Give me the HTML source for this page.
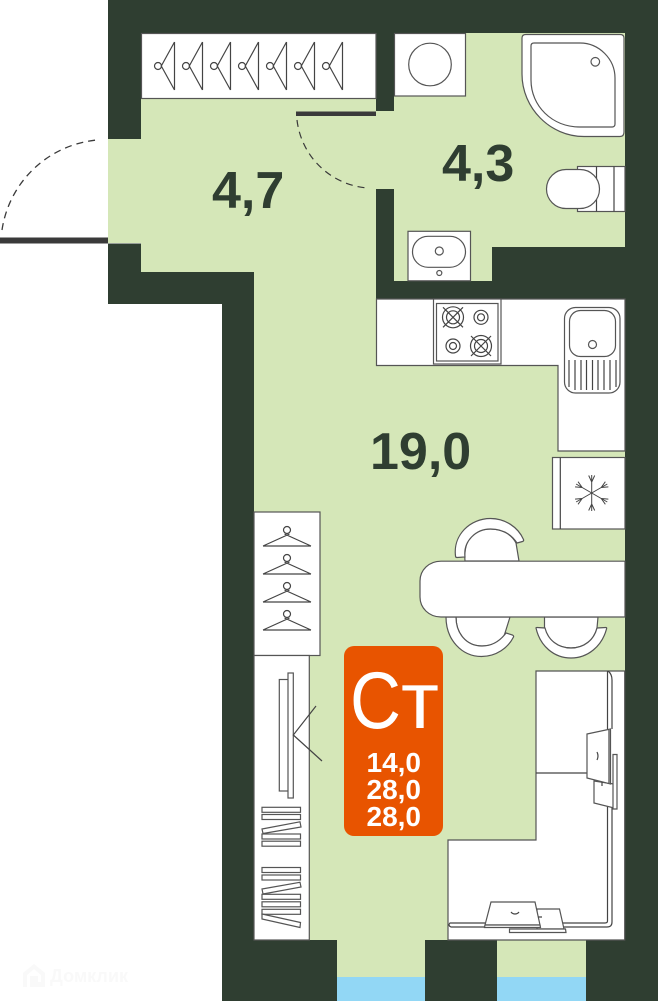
<!DOCTYPE html>
<html><head><meta charset="utf-8"><style>
html,body{margin:0;padding:0;background:#fff}
svg{display:block}
text{font-family:"Liberation Sans",sans-serif}
.f{fill:#fff;stroke:#555;stroke-width:1.2}
.l{fill:none;stroke:#444;stroke-width:1.2}
</style></head><body>
<svg width="658" height="1001" viewBox="0 0 658 1001" xmlns="http://www.w3.org/2000/svg">
<defs>
<g id="hv" class="l"><circle cx="158" cy="66" r="3.5"/><path d="M174.500 42V90M174.500 42L161 66.500M174.500 90L161 65.500"/></g>
<g id="hh" class="l"><circle cx="287" cy="530" r="3.5"/><path d="M263 546H311M263 546L289.500 534M311 546L284.500 534"/></g>
<g id="bb" class="l"><circle r="10.500"/><circle r="6.500"/><path d="M-10-10L10 10M10-10L-10 10"/></g>
<g id="bs" class="l"><circle r="7"/><circle r="3.500"/></g>
<g id="arm" class="l"><path d="M0 0V-18M0-11L-3-17.500M0-11L3-17.500" stroke-width="1"/></g>
</defs>

<!-- floor -->
<path fill="#d5e7b8" d="M141 33H625V281H141ZM108 139H141V243H108ZM254 281H625V940H254ZM337 940H425V977H337ZM497 940H586V977H497Z"/>
<rect x="337" y="977" width="88" height="24" fill="#92d7f5"/>
<rect x="497" y="977" width="89" height="24" fill="#92d7f5"/>

<!-- walls -->
<path fill="#2f3e31" d="M108 0H658V1001H586V940H497V1001H425V940H337V1001H222V304H108V243.500H141V272H254V940H625V33H141V139H108Z"/>
<rect x="376" y="33" width="18" height="78" fill="#2f3e31"/>
<path fill="#2f3e31" d="M376 189H394V281H492V247H625V299H376Z"/>

<!-- closet top -->
<rect x="141.500" y="33.500" width="234.500" height="65" class="f"/>
<use href="#hv"/><use href="#hv" x="28"/><use href="#hv" x="56"/><use href="#hv" x="84"/><use href="#hv" x="112"/><use href="#hv" x="140"/><use href="#hv" x="168"/>

<!-- doors -->
<rect x="0" y="237.500" width="108" height="6" fill="#3a3a3a"/>
<path d="M2 230A106 106 0 0 1 97 140" fill="none" stroke="#3a3a3a" stroke-width="1.300" stroke-dasharray="7 5"/>
<rect x="296" y="111.500" width="80" height="4.500" fill="#3a3a3a"/>
<path d="M297 120A77 77 0 0 0 368 188" fill="none" stroke="#3a3a3a" stroke-width="1.200" stroke-dasharray="7 5"/>

<!-- washer -->
<rect x="394.500" y="33.500" width="71" height="62.500" class="f"/>
<circle cx="430" cy="64.500" r="21.300" class="f"/>

<!-- shower -->
<path class="f" d="M522 38Q522 34.500 526 34.500H620Q624 34.500 624 38V132Q624 136.500 620 136.500H584C550 136.500 522 108 522 74Z"/>
<path class="f" d="M531 46Q531 43 534 43H580C599 43 615 59 615 78V124Q615 127 612 127H580C552 127 531 106 531 80Z"/>
<circle cx="595.300" cy="61.800" r="4.300" class="f"/>

<!-- toilet -->
<rect x="577.500" y="166.500" width="47.500" height="45" class="f"/>
<path class="l" d="M596.500 166.500V211.500M614 166.500V211.500"/>
<rect x="546.500" y="169.500" width="53" height="39" rx="19.500" class="f"/>

<!-- sink -->
<rect x="408" y="231.300" width="62.500" height="49.500" class="f"/>
<rect x="412.500" y="236.300" width="53" height="31" rx="15.500" class="f"/>
<circle cx="439.300" cy="251" r="4" class="f"/>
<circle cx="439.300" cy="273" r="2.500" class="f"/>

<!-- kitchen -->
<path class="f" d="M376.500 299H625V451H558V365.500H376.500Z"/>
<rect x="433.500" y="299" width="67.500" height="65" class="f"/>
<rect x="436.500" y="303.500" width="61.500" height="57.500" class="f"/>
<use href="#bb" x="453" y="317.300"/><use href="#bs" x="481" y="317.300"/><use href="#bs" x="453" y="346"/><use href="#bb" x="481" y="346"/>
<rect x="564.500" y="307.500" width="55.500" height="85.500" rx="11" class="f"/>
<rect x="569.500" y="310.500" width="46" height="46" rx="11" class="f"/>
<circle cx="592.500" cy="344.500" r="4" class="f"/>
<path class="l" d="M569 360V387M575 360V390M581 360V390M586.500 360V390M592.500 360V390M598 360V390M604 360V390M610 360V390M616 360V387"/>

<!-- fridge -->
<rect x="552.500" y="457.500" width="72.500" height="71.500" class="f"/>
<path class="l" d="M560.300 457.500V529"/>
<g transform="translate(591.700 493)">
<use href="#arm"/><use href="#arm" transform="rotate(60)"/><use href="#arm" transform="rotate(120)"/><use href="#arm" transform="rotate(180)"/><use href="#arm" transform="rotate(240)"/><use href="#arm" transform="rotate(300)"/>
</g>

<!-- chairs -->
<path class="f" d="M465 561C463 535 478 529 490.500 529C503 529 512 535 516 543L519 561Z"/>
<path class="f" d="M455.500 556C453 535 470 518.500 490.500 518.500C505 518.500 518 527 523.500 539.500Q524 541 522.500 541.500L517 543C511 534 502 529 490.500 529C476 529 463 541 465 557L457 557.500Q455.500 557.500 455.500 556Z"/>
<path class="f" d="M456 617C456 633 466 646 482 646C495 646 503 640 505 633L510 617Z"/>
<path class="f" d="M446 617C446 640 462 656.500 481.500 656.500C496 656.500 508 648 513.500 637Q514 636 512.500 635L506 633C500 641 492 646 482 646C466 646 456 633 456 617Z"/>
<path class="f" d="M544.500 617V628C547 640 558 648 571 648C584 648 594 640 597 628L598 617Z"/>
<path class="f" d="M536 628Q536 627.500 537 627.500L545 628C548 640 558 648 571 648C584 648 594 640 597 628L606 627.500Q607 627.500 606.500 629C602 646 588 658 571 658C554 658 540 646 536 628Z"/>
<path class="f" d="M625 561.200H441C429 561.200 420 570 420 581V597C420 608 429 617 441 617H625Z" stroke-width="1.300"/>

<!-- left wardrobe -->
<rect x="254" y="512" width="66" height="143.500" class="f"/>
<use href="#hh"/><use href="#hh" y="28"/><use href="#hh" y="56"/><use href="#hh" y="84"/>

<!-- TV cabinet -->
<rect x="254" y="655.500" width="55.300" height="284.500" class="f"/>
<rect x="279.300" y="679.500" width="9" height="111.500" class="f"/>
<rect x="288" y="673" width="5.300" height="125" class="f"/>
<path class="l" d="M316 706L293.300 735L322 761"/>
<g class="f" stroke-width="1">
<rect x="262" y="807.300" width="38.500" height="5"/><rect x="262" y="814.500" width="38.500" height="5"/>
<path d="M262 829L300 821.800L301 827L263 833.500Z"/>
<rect x="262" y="834" width="38.500" height="5"/><rect x="262" y="841.200" width="38.500" height="5"/>
<rect x="262" y="867.500" width="38.500" height="5"/><rect x="262" y="875" width="38.500" height="5"/>
<path d="M262 889L300 882.300L301 887L263 894Z"/>
<rect x="262" y="894.300" width="38.500" height="5"/><rect x="262" y="901.800" width="38.500" height="5"/><rect x="262" y="909.300" width="38.500" height="5"/>
<path d="M262 914L300.500 922.500L300 927.500L262 919Z"/>
</g>

<!-- right wardrobe -->
<path class="f" d="M536 671H624.700V940H448V840H536Z"/>
<path class="l" d="M536 773H587"/>
<path class="l" d="M607.500 671V729M612 729V680Q612 674 608 671M607.500 785V921Q607.500 923 605 923H450Q449 924 449 925T451 927H485M612 808V922Q612 927 607 927H564"/>
<path class="f" d="M594 781V803L614 808V784Z"/>
<path class="f" d="M587 734L610.500 729V784L587 778Z"/>
<path class="l" d="M609 730V783"/>
<path class="l" d="M597 752Q599 756 597 760M602 782V786"/>
<path class="f" d="M613 754.500H617V809H613Z"/>
<path class="f" d="M537 909H559.500L564 929H537Z"/>
<path class="f" d="M509.500 929H565.500L566 932.500H509.500Z"/>
<path class="f" d="M491 902H535L540 925H485Z"/>
<path class="f" d="M485 925H540L540.500 927.500H484.500Z"/>
<path class="l" d="M511 912Q512.500 914 515 914T519 912M538 917H542"/>

<!-- labels -->
<g fill="#2f3e31" font-size="52" font-weight="700">
<text x="212" y="208">4,7</text>
<text x="442" y="181">4,3</text>
<text x="370" y="469">19,0</text>
</g>
<rect x="344" y="646" width="99" height="190" rx="10" fill="#e85400"/>
<text x="350" y="728" font-size="81" fill="#fff" textLength="51" lengthAdjust="spacingAndGlyphs">С</text>
<text x="401" y="728" font-size="81" fill="#fff" textLength="38" lengthAdjust="spacingAndGlyphs">т</text>
<g fill="#fff" font-size="28" font-weight="700">
<text x="366.500" y="772">14,0</text>
<text x="366.500" y="799">28,0</text>
<text x="366.500" y="826">28,0</text>
</g>

<!-- watermark -->
<g fill="#f9f9f9"><path d="M23 973L34 964L45 973V987H30V976H38V982H41V975L34 969L27 975V987H23Z"/>
<text x="50" y="982" font-size="18" font-weight="700" textLength="78" lengthAdjust="spacingAndGlyphs">Домклик</text></g>
</svg>
</body></html>
